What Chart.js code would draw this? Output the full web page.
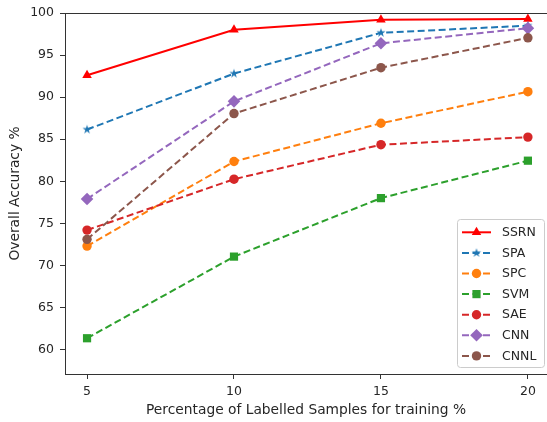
<!DOCTYPE html>
<html><head><meta charset="utf-8">
<script src="https://cdn.jsdelivr.net/npm/chart.js@4/dist/chart.umd.min.js"></script>
<style>html,body{margin:0;padding:0;background:#fff;overflow:hidden}</style>
</head><body>
<canvas id="c" width="547" height="422"></canvas>
<script>
// ---- data ----
const xValues = [5, 10, 15, 20];
const xTicks = [5, 10, 15, 20];
const yTicks = [60, 65, 70, 75, 80, 85, 90, 95, 100];
const seriesNames = ['SSRN', 'SPA', 'SPC', 'SVM', 'SAE', 'CNN', 'CNNL'];
const ssrn = [92.6, 98.0, 99.2, 99.3];
const spa  = [86.15, 92.8, 97.65, 98.5];
const spc  = [72.3, 82.35, 86.9, 90.65];
const svm  = [61.35, 71.05, 78.0, 82.45];
const sae  = [74.2, 80.25, 84.35, 85.25];
const cnn  = [77.9, 89.5, 96.4, 98.2];
const cnnl = [73.1, 88.05, 93.5, 97.05];
const xTitle = 'Percentage of Labelled Samples for training %';
const yTitle = 'Overall Accuracy %';

// ---- styles ----
const FONT = 'DejaVu Sans';
const TXT = '#262626';
function starCanvas(color, R) {
  const c = document.createElement('canvas');
  const s = Math.ceil(R * 2 + 2);
  c.width = s; c.height = s;
  const g = c.getContext('2d');
  const r = R * 0.38;
  g.beginPath();
  for (let i = 0; i < 10; i++) {
    const rad = (i % 2 === 0) ? R : r;
    const a = -Math.PI / 2 + i * Math.PI / 5;
    const px = s / 2 + rad * Math.cos(a), py = s / 2 + rad * Math.sin(a);
    if (i === 0) g.moveTo(px, py); else g.lineTo(px, py);
  }
  g.closePath(); g.fillStyle = color; g.fill();
  return c;
}
const styles = [
  {color: '#ff0000', marker: 'triangle', r: 5.5, dash: []},
  {color: '#1f77b4', marker: 'star', r: 5, dash: [7, 3.5]},
  {color: '#ff7f0e', marker: 'circle', r: 4.7, dash: [7, 3.5]},
  {color: '#2ca02c', marker: 'rect', r: 5.8, dash: [7, 3.5]},
  {color: '#d62728', marker: 'circle', r: 4.7, dash: [7, 3.5]},
  {color: '#9467bd', marker: 'rectRot', r: 6.3, dash: [7, 3.5]},
  {color: '#8c564b', marker: 'circle', r: 4.7, dash: [7, 3.5]},
];
styles.forEach(s => { if (s.marker === 'star') s.img = starCanvas(s.color, 4.8); });
const seriesValues = [ssrn, spa, spc, svm, sae, cnn, cnnl];

const datasets = seriesNames.map((name, k) => {
  const s = styles[k];
  return {
    label: name,
    data: xValues.map((x, i) => ({x: x, y: seriesValues[k][i]})),
    borderColor: s.color,
    backgroundColor: s.color,
    borderWidth: 2,
    borderDash: s.dash,
    pointStyle: s.img ? s.img : s.marker,
    pointRadius: s.r,
    pointHoverRadius: s.r,
    pointBorderWidth: 0,
    pointBackgroundColor: s.color,
    tension: 0,
    fill: false,
    order: seriesNames.length - k
  };
});

function drawMarker(ctx, s, x, y) {
  ctx.save();
  ctx.fillStyle = s.color;
  ctx.setLineDash([]);
  const r = s.r;
  ctx.beginPath();
  if (s.img) { ctx.drawImage(s.img, x - s.img.width / 2, y - s.img.height / 2); ctx.restore(); return; }
  if (s.marker === 'circle') ctx.arc(x, y, r, 0, Math.PI * 2);
  else if (s.marker === 'rect') { const h = r * Math.SQRT1_2; ctx.rect(x - h, y - h, 2 * h, 2 * h); }
  else if (s.marker === 'rectRot') { ctx.moveTo(x, y - r); ctx.lineTo(x + r, y); ctx.lineTo(x, y + r); ctx.lineTo(x - r, y); ctx.closePath(); }
  else if (s.marker === 'triangle') {
    for (let i = 0; i < 3; i++) { const a = -Math.PI / 2 + i * 2 * Math.PI / 3; const px = x + r * Math.cos(a), py = y + r * Math.sin(a); if (i === 0) ctx.moveTo(px, py); else ctx.lineTo(px, py); }
    ctx.closePath();
  }
  ctx.fill();
  ctx.restore();
}

const framePlugin = {
  id: 'frame',
  afterDraw(chart) {
    const ctx = chart.ctx, a = chart.chartArea;
    ctx.save();
    // top spine
    ctx.strokeStyle = '#333'; ctx.lineWidth = 1;
    ctx.beginPath(); ctx.moveTo(a.left, a.top + 0.5); ctx.lineTo(chart.width, a.top + 0.5); ctx.stroke();
    // legend box
    const bx = 457.5, by = 219.5, bw = 87, bh = 148;
    ctx.beginPath();
    if (ctx.roundRect) ctx.roundRect(bx, by, bw, bh, 3); else ctx.rect(bx, by, bw, bh);
    ctx.fillStyle = 'rgba(255,255,255,0.85)'; ctx.fill();
    ctx.strokeStyle = '#cccccc'; ctx.lineWidth = 1; ctx.stroke();
    ctx.font = '12.5px "' + FONT + '"';
    ctx.textBaseline = 'middle'; ctx.textAlign = 'left';
    chart.data.datasets.forEach((ds, k) => {
      const s = styles[k];
      const y = 232.3 + k * 20.6;
      ctx.save();
      ctx.strokeStyle = s.color; ctx.lineWidth = 2; ctx.setLineDash(s.dash);
      ctx.beginPath(); ctx.moveTo(462, y); ctx.lineTo(491, y); ctx.stroke();
      ctx.restore();
      drawMarker(ctx, s, 476.5, y);
      ctx.fillStyle = TXT;
      ctx.fillText(ds.label, 502, y + 0.5);
    });
    ctx.restore();
  }
};

new Chart(document.getElementById('c'), {
  type: 'line',
  data: {datasets: datasets},
  plugins: [framePlugin],
  options: {
    responsive: false,
    animation: false,
    events: [],
    layout: {autoPadding: false, padding: {top: 13, right: 0, left: 0, bottom: 0}},
    plugins: {legend: {display: false}, tooltip: {enabled: false}},
    scales: {
      x: {
        type: 'linear',
        min: 4.25, max: 20.65,
        afterBuildTicks: sc => { sc.ticks = xTicks.map(v => ({value: v})); },
        afterFit: sc => { sc.height = 48; sc.paddingRight = 0; sc.paddingLeft = 0; },
        grid: {drawOnChartArea: false, drawTicks: true, tickLength: 5, color: '#333', tickWidth: 1},
        border: {display: true, color: '#333', width: 1},
        ticks: {color: TXT, font: {family: FONT, size: 12.5}, padding: 5.5, maxRotation: 0, autoSkip: false},
        title: {display: true, text: xTitle, color: TXT, font: {family: FONT, size: 13.8}, padding: {top: 0, bottom: 3.5}}
      },
      y: {
        type: 'linear',
        min: 57.1, max: 100,
        afterBuildTicks: sc => { sc.ticks = yTicks.map(v => ({value: v})); },
        afterFit: sc => { sc.width = 65; sc.paddingTop = 0; sc.paddingBottom = 0; },
        grid: {drawOnChartArea: false, drawTicks: true, tickLength: 5, color: '#333', tickWidth: 1},
        border: {display: true, color: '#333', width: 1},
        ticks: {color: TXT, font: {family: FONT, size: 12.5}, padding: 6, autoSkip: false},
        title: {display: true, text: yTitle, color: TXT, font: {family: FONT, size: 13.8}, padding: {top: 7.5, bottom: 0}}
      }
    }
  }
});
</script>
</body></html>
